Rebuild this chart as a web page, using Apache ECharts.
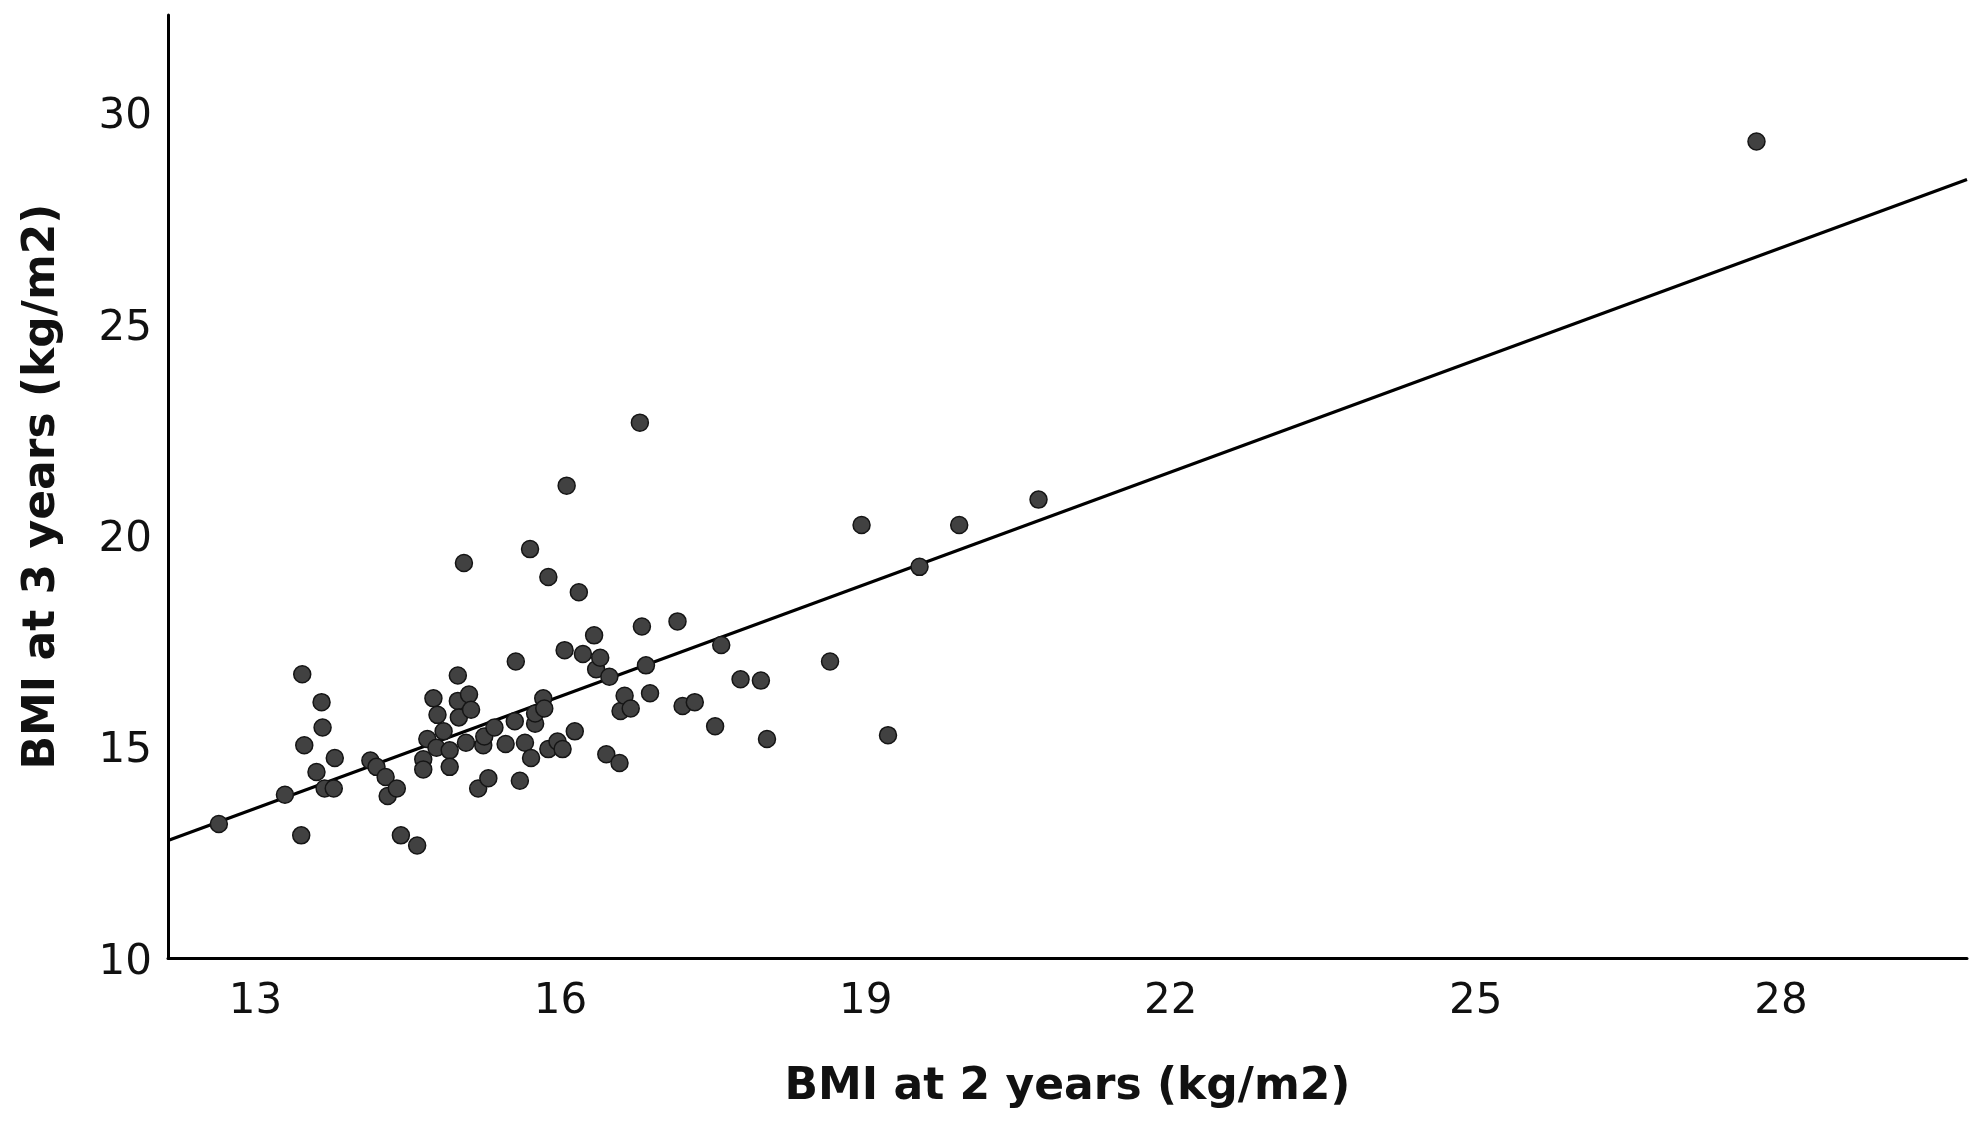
<!DOCTYPE html>
<html>
<head>
<meta charset="utf-8">
<script src="https://cdn.jsdelivr.net/npm/echarts@6/dist/echarts.min.js"></script>
<style>
  html, body { margin: 0; padding: 0; background: #fff; }
  #chart { width: 1983px; height: 1127px; }
</style>
</head>
<body>
<div id="chart"></div>
<script>
// BMI at 2 years (x) and at 3 years (y)
var bmi2 = [12.64, 13.29, 13.46, 13.48, 13.45, 13.65, 13.66, 13.60, 13.68, 13.77,
    13.78, 14.13, 14.19, 14.28, 14.30, 14.39, 14.43, 14.59, 14.65, 14.65,
    14.69, 14.75, 14.79, 14.78, 14.85, 14.91, 14.91, 14.99, 14.99, 15.00,
    15.05, 15.07, 15.10, 15.12, 15.19, 15.24, 15.25, 15.29, 15.35, 15.46,
    15.55, 15.56, 15.60, 15.65, 15.70, 15.71, 15.75, 15.75, 15.83, 15.84,
    15.88, 15.88, 15.97, 16.02, 16.06, 16.04, 16.14, 16.18, 16.22, 16.33,
    16.35, 16.39, 16.48, 16.45, 16.58, 16.59, 16.63, 16.69, 16.78, 16.80,
    16.84, 16.88, 17.15, 17.20, 17.32, 17.52, 17.58, 17.77, 17.97, 18.03,
    18.65, 18.96, 19.22, 19.53, 19.92, 20.70, 27.76];
var bmi3 = [13.17, 13.86, 16.71, 15.03, 12.90, 16.05, 15.45, 14.40, 14.01, 14.01,
    14.73, 14.67, 14.52, 14.28, 13.83, 14.01, 12.90, 12.66, 14.70, 14.46,
    15.18, 16.14, 15.75, 14.97, 15.36, 14.91, 14.52, 16.68, 16.08, 15.69,
    19.34, 15.09, 16.23, 15.87, 14.01, 15.03, 15.24, 14.25, 15.45, 15.06,
    15.60, 17.01, 14.19, 15.09, 19.67, 14.73, 15.54, 15.78, 16.14, 15.90,
    19.01, 14.94, 15.12, 14.94, 21.17, 17.28, 15.36, 18.65, 17.19, 17.63,
    16.83, 17.10, 16.65, 14.82, 14.61, 15.84, 16.20, 15.90, 22.66, 17.84,
    16.92, 16.26, 17.96, 15.96, 16.05, 15.48, 17.40, 16.59, 16.56, 15.18,
    17.01, 20.24, 15.27, 19.25, 20.24, 20.84, 29.31];

// fit line end points at the plot edges
var fitLine = [[12.14, 12.78], [29.83, 28.41]];

var xTicks = [13, 16, 19, 22, 25, 28];
var yTicks = [10, 15, 20, 25, 30];

var points = bmi2.map(function (x, i) { return [x, bmi3[i]]; });

var titleStyle = {
    fontFamily: 'DejaVu Sans',
    fontWeight: 'bold',
    fontSize: 44,
    color: '#111'
};

var myChart = echarts.init(document.getElementById('chart')),
    option = {
        animation: false,
        grid: {
            left: 168,
            right: 16,
            top: 15,
            bottom: 169
        },
        xAxis: {
            type: 'value',
            min: 12.14,
            max: 29.83,
            name: 'BMI at 2 years (kg/m2)',
            nameLocation: 'middle',
            nameGap: 108,
            nameTextStyle: titleStyle,
            splitLine: {show: false},
            axisTick: {show: false},
            axisLine: {lineStyle: {color: '#000', width: 3}},
            axisLabel: {
                customValues: xTicks,
                margin: 23,
                fontFamily: 'DejaVu Sans',
                fontSize: 42,
                color: '#111'
            }
        },
        yAxis: {
            type: 'value',
            min: 10,
            max: 32.3,
            name: 'BMI at 3 years (kg/m2)',
            nameLocation: 'middle',
            nameGap: 103,
            nameTextStyle: titleStyle,
            splitLine: {show: false},
            axisTick: {show: false},
            axisLine: {show: true, lineStyle: {color: '#000', width: 3}},
            axisLabel: {
                customValues: yTicks,
                margin: 16,
                formatter: '{t|{value}}',
                rich: {
                    t: {
                        padding: [10, 0, 0, 0],
                        fontFamily: 'DejaVu Sans',
                        fontSize: 42,
                        color: '#111'
                    }
                }
            }
        },
        series: [
            {
                type: 'line',
                data: fitLine,
                symbol: 'none',
                silent: true,
                lineStyle: {color: '#000', width: 3.2},
                z: 1
            },
            {
                type: 'scatter',
                data: points,
                symbolSize: 17,
                itemStyle: {
                    color: '#414141',
                    borderColor: '#151515',
                    borderWidth: 1.5,
                    opacity: 1
                },
                z: 2
            }
        ]
    };

myChart.setOption(option);
</script>
</body>
</html>
